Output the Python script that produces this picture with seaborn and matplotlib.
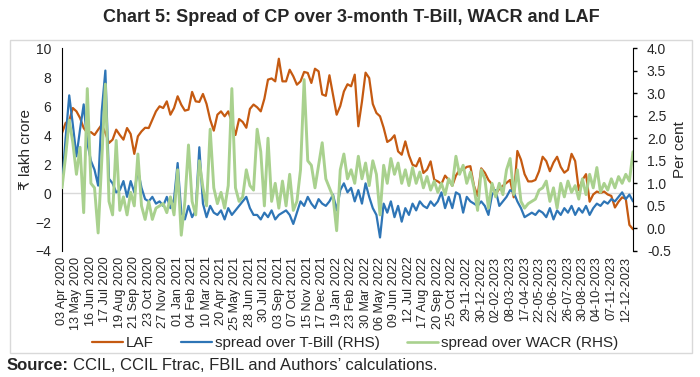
import numpy as np
import pandas as pd
import matplotlib
matplotlib.use("Agg")
import matplotlib.pyplot as plt
from matplotlib.lines import Line2D
from matplotlib.patches import Rectangle
import seaborn as sns

# Rótulos do eixo x (categorias do Excel)
x_labels = [
    "03 Apr 2020", "13 May 2020", "16 Jun 2020", "17 Jul 2020", "19 Aug 2020",
    "21 Sep 2020", "23 Oct 2020", "27 Nov 2020", "01 Jan 2021", "04 Feb 2021",
    "10 Mar 2021", "20 Apr 2021", "25 May 2021", "28 Jun 2021", "30 Jul 2021",
    "03 Sep 2021", "07 Oct 2021", "15 Nov 2021", "17 Dec 2021", "19 Jan 2022",
    "23 Feb 2022", "30 Mar 2022", "06 May 2022", "09 Jun 2022", "12 Jul 2022",
    "17 Aug 2022", "20 Sep 2022", "25 Oct 2022", "29-11-2022", "30-12-2022",
    "02-02-2023", "08-03-2023", "17-04-2023", "22-05-2023", "22-06-2023",
    "26-07-2023", "30-08-2023", "04-10-2023", "07-11-2023", "12-12-2023",
]

# LAF (₹ lakh crore, eixo esquerdo), 4 pontos por rótulo
laf = [
    4.14, 4.83, 5.0, 5.86, 5.63, 5.17, 4.48, 4.14, 4.2, 4.0,
    4.37, 4.71, 4.14, 3.45, 3.68, 4.37, 4.0, 3.68, 4.48, 4.07,
    2.7, 3.91, 4.25, 4.5, 4.48, 5.06, 5.63, 5.98,
    5.86, 6.32, 5.4, 5.86, 6.67, 6.09, 5.68, 5.75, 6.97, 6.32,
    6.28, 6.83, 6.14, 5.06, 4.3, 5.4, 5.63, 5.29, 5.63, 4.9,
    4.0, 5.1, 4.9, 4.5, 5.8, 6.1,
    5.91, 5.63, 6.5, 7.82, 7.9, 7.7, 9.26, 7.7, 7.7, 8.5,
    8.05, 7.47, 7.7, 8.35, 8.28, 7.59, 8.57, 8.39, 6.8, 6.7,
    8.12, 6.78, 5.4, 6.0, 7.0, 7.5,
    7.36, 8.16, 4.6, 6.3, 8.3, 7.93, 6.14, 5.52, 5.29, 4.5,
    3.52, 3.68, 3.98, 2.87, 2.64, 3.56, 2.6, 1.95, 1.84, 2.41,
    1.38, 1.61, 2.18, 0.92, 0.8, 0.62, 1.2,
    0.9, 0.5, 1.2, 1.6, 1.6, 1.8, 1.85, 0.5, -0.2, 1.7,
    1.4, 0.9, 0.6, -0.1, 0.3, 0.5, 0.7, 0.9, -0.3, 2.9,
    2.3, 1.3, 0.8, 0.8, 0.9, 1.5,
    2.5, 2.2, 1.5, 2.1, 2.5, 1.8, 1.4, 1.6, 2.7, 2.2,
    0.2, 0.9, 1.3, -0.6, -0.1, 0.1, 0.0, 0.1, -0.1, -0.2,
    -1.0, -0.6, -0.3, -0.4, -2.2, -2.5,
]

# spread over T-Bill (per cent, eixo direito)
tbill = [
    0.95, 2.0, 2.95, 2.3, 1.6, 2.2, 2.75, 1.9, 1.5, 1.3,
    0.95, 2.6, 3.5, 1.1, 1.0, 0.8, 0.85, 1.05, 0.7, 1.05,
    0.8, 1.3, 0.9, 0.65, 0.6, 0.7, 0.55, 0.6,
    0.5, 0.7, 0.45, 0.65, 1.45, 0.35, 0.2, 0.5, 0.25, 0.4,
    1.8, 0.55, 0.25, 0.5, 0.35, 0.3, 0.4, 0.2, 0.45, 0.3,
    0.4, 0.5, 0.6, 0.7, 0.45, 0.3,
    0.3, 0.2, 0.35, 0.25, 0.4, 0.2, 0.3, 0.35, 0.4, 0.3,
    0.1, 0.35, 0.6, 0.5, 0.7, 0.55, 0.45, 0.65, 0.55, 0.5,
    0.6, 0.75, 0.4, 0.85, 1.0, 0.8,
    0.9, 0.6, 0.85, 0.55, 1.0, 0.7, 0.45, 0.3, -0.2, 0.55,
    0.35, 0.6, 0.25, 0.5, 0.15, 0.45, 0.3, 0.55, 0.4, 0.6,
    0.5, 0.45, 0.6, 0.5, 0.6, 0.8, 0.45,
    0.7, 0.45, 0.8, 0.75, 0.35, 0.7, 0.6, 0.55, 0.5, 0.6,
    0.5, 0.3, 0.75, 0.85, 0.5, 0.6, 0.7, 0.85, 0.8, 0.6,
    0.45, 0.25, 0.3, 0.35, 0.3, 0.4,
    0.35, 0.25, 0.45, 0.2, 0.4, 0.3, 0.45, 0.35, 0.5, 0.3,
    0.45, 0.35, 0.5, 0.3, 0.45, 0.55, 0.5, 0.6, 0.55, 0.65,
    0.6, 0.7, 0.8, 0.65, 0.75, 0.6,
]

# spread over WACR (per cent, eixo direito)
wacr = [
    0.9, 1.6, 2.4, 1.9, 1.2, 1.8, 0.35, 3.1, 1.0, 0.9,
    -0.1, 1.5, 3.2, 0.6, 0.3, 1.95, 0.4, 0.7, 0.3, 0.8,
    0.5, 1.65, 0.5, 0.2, 0.6, 0.2, 0.45, 0.5,
    0.55, 0.35, 0.7, 0.3, 1.3, -0.15, 0.6, 1.85, 0.6, 0.3,
    1.5, 0.9, 0.5, 2.2, 0.9, 0.55, 0.8, 0.45, 0.95, 3.1,
    0.9, 0.6, 0.7, 1.3, 0.95, 0.85,
    2.2, 1.7, 0.5, 2.0, 0.6, 1.0, 0.45, 1.05, 0.5, 1.2,
    0.4, 0.6, 1.3, 3.3, 1.5, 1.4, 0.9, 1.4, 1.9, 1.1,
    0.9, 0.7, -0.05, 1.3, 1.65, 1.1,
    1.3, 1.0, 1.6, 1.1, 1.45, 0.95, 1.5, 1.2, 0.3, 1.4,
    1.0, 1.55, 1.2, 1.45, 1.0, 1.3, 0.95, 1.35, 1.0, 1.25,
    0.9, 1.15, 0.85, 1.05, 0.8, 1.0, 0.75,
    1.1, 0.95, 1.6, 1.2, 1.4, 1.0, 1.25, 0.9, 0.4, 1.3,
    1.1, 0.45, 1.0, 0.7, 1.0, 0.75, 1.3, 1.55, 0.75, 1.3,
    0.6, 0.45, 0.55, 0.6, 0.65, 0.85,
    0.9, 1.05, 0.6, 0.9, 0.45, 1.0, 0.7, 1.05, 0.8, 0.95,
    0.65, 1.1, 0.75, 1.2, 0.9, 1.35, 0.8, 1.0, 0.85, 1.1,
    0.9, 1.15, 1.0, 1.2, 1.05, 1.7,
]

if not (len(laf) == len(tbill) == len(wacr)):
    raise ValueError(f"tamanhos diferentes: {len(laf)} {len(tbill)} {len(wacr)}")

df = pd.DataFrame({
    "pos": np.arange(len(laf)) / 4.0,
    "LAF": laf,
    "tbill": tbill,
    "wacr": wacr,
})

cor_laf = "#C55A11"
cor_tbill = "#2E75B6"
cor_wacr = "#A9D18E"

sns.set_style("white")
plt.rcParams["font.family"] = ["Liberation Sans", "DejaVu Sans"]

fig = plt.figure(figsize=(7, 3.77), dpi=100)
ax = fig.add_axes([62 / 700, 126 / 377, 571 / 700, 203 / 377])
ax2 = ax.twinx()

ax.axhline(0, color="#D9D9D9", lw=1, zorder=0)
sns.lineplot(data=df, x="pos", y="LAF", ax=ax, color=cor_laf, lw=1.6, legend=False)
sns.lineplot(data=df, x="pos", y="tbill", ax=ax2, color=cor_tbill, lw=1.6, legend=False)
sns.lineplot(data=df, x="pos", y="wacr", ax=ax2, color=cor_wacr, lw=2.1, legend=False)

ax.set_xlim(0, 39.5)
ax.set_ylim(-4, 10)
ax.set_yticks(range(-4, 11, 2))
ax.set_xticks(range(len(x_labels)))
ax.set_xticklabels(x_labels, rotation=90, fontsize=9.1)
ax.tick_params(axis="x", length=0, pad=4)
ax.tick_params(axis="y", length=0, pad=8, labelsize=10)
ax.set_xlabel("")
ax.set_ylabel("₹ lakh crore", fontsize=11)
ax.yaxis.set_label_coords(-0.051, 0.5)

ax2.set_ylim(-0.5, 4.0)
ticks2 = np.arange(-0.5, 4.01, 0.5)
ax2.set_yticks(ticks2)
ax2.set_yticklabels([f"{t:.1f}" for t in ticks2])
ax2.tick_params(axis="y", length=3, width=1, direction="out", pad=7, labelsize=10, color="black")
ax2.set_ylabel("Per cent", fontsize=11)
ax2.yaxis.set_label_coords(1.07, 0.5)

for s in ["top", "bottom", "right"]:
    ax.spines[s].set_visible(False)
ax.spines["left"].set_color("black")
for s in ["top", "bottom", "left"]:
    ax2.spines[s].set_visible(False)
ax2.spines["right"].set_color("black")
ax2.spines["right"].set_visible(True)

# Legenda
handles = [
    Line2D([], [], color=cor_laf, lw=1.6),
    Line2D([], [], color=cor_tbill, lw=1.6),
    Line2D([], [], color=cor_wacr, lw=1.9),
]
fig.legend(handles, ["LAF", "spread over T-Bill (RHS)", "spread over WACR (RHS)"],
           ncol=3, loc="center", bbox_to_anchor=(355 / 700, 1 - 343 / 377),
           frameon=False, fontsize=11, handlelength=2.0, columnspacing=1.8,
           handletextpad=0.2)

# Moldura do gráfico
fig.patches.append(Rectangle((10 / 700, 24 / 377), 682 / 700, 313 / 377,
                             transform=fig.transFigure, fill=False,
                             ec="#D9D9D9", lw=1))

fig.text(351 / 700, 1 - 17 / 377, "Chart 5: Spread of CP over 3-month T-Bill, WACR and LAF",
         ha="center", va="center", fontsize=13, fontweight="bold")

t1 = fig.text(7 / 700, 1 - 366 / 377, "Source:", ha="left", va="center",
              fontsize=12, fontweight="bold")
fig.canvas.draw()
bb = t1.get_window_extent(renderer=fig.canvas.get_renderer())
fig.text(bb.x1 / fig.bbox.width + 4 / 700, 1 - 366 / 377,
         "CCIL, CCIL Ftrac, FBIL and Authors\u2019 calculations.",
         ha="left", va="center", fontsize=12)

fig.savefig("out.png", dpi=100)
plt.close(fig)
